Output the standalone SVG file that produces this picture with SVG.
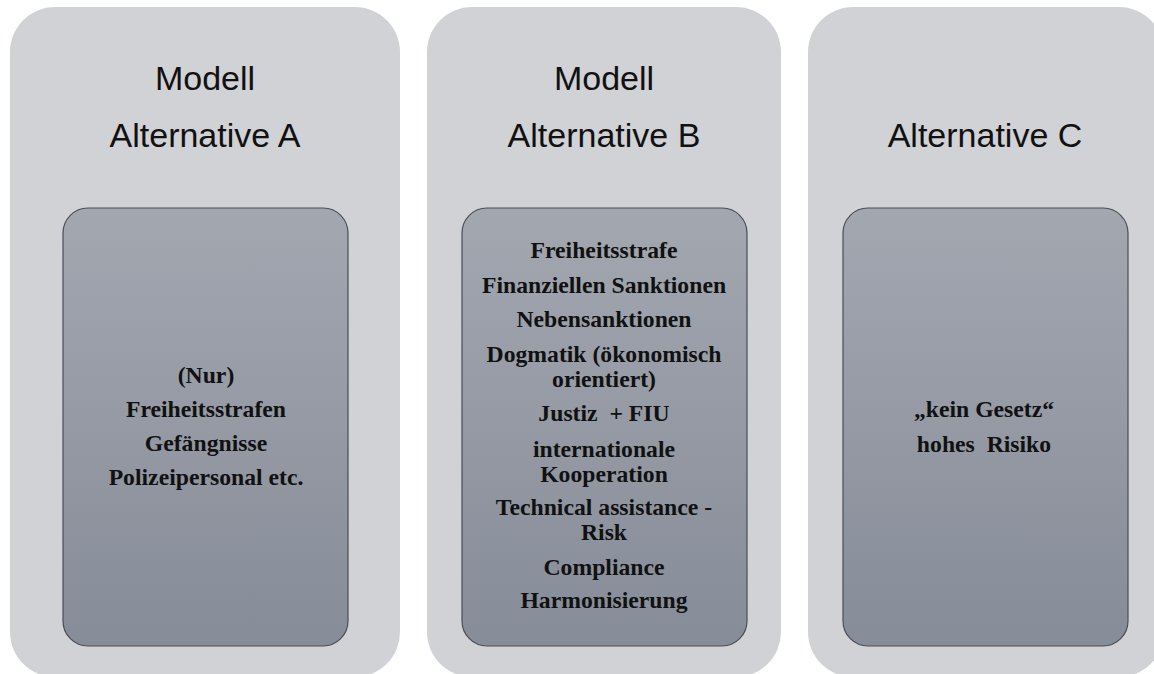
<svg xmlns="http://www.w3.org/2000/svg" width="1154" height="674" viewBox="0 0 1154 674">
<defs>
<linearGradient id="ig" x1="0" y1="0" x2="0" y2="1">
<stop offset="0" stop-color="#a3a7b0"/>
<stop offset="1" stop-color="#868c98"/>
</linearGradient>
<style>
.outer{fill:#d1d2d6;}
.inner{fill:url(#ig);stroke:#4a4d55;stroke-width:1.2;}
.title{font-family:"Liberation Sans",Arial,sans-serif;font-size:34px;fill:#111;text-anchor:middle;}
.body{font-family:"Liberation Serif","Times New Roman",serif;font-weight:bold;font-size:23.7px;fill:#111;text-anchor:middle;}
</style>
</defs>
<rect width="1154" height="674" fill="#ffffff"/>
<g id="nodeA">
<rect class="outer" x="10" y="7" width="390" height="670" rx="45"/>
<text class="title" x="205" y="90">Modell</text>
<text class="title" x="205" y="147">Alternative A</text>
<rect class="inner" x="63" y="208" width="285" height="438" rx="25"/>
<text class="body" x="206" y="383">(Nur)</text>
<text class="body" x="206" y="417">Freiheitsstrafen</text>
<text class="body" x="206" y="451">Gefängnisse</text>
<text class="body" x="206" y="485">Polizeipersonal etc.</text>
</g>
<g id="nodeB">
<rect class="outer" x="427" y="7" width="354" height="670" rx="45"/>
<text class="title" x="604" y="90">Modell</text>
<text class="title" x="604" y="147">Alternative B</text>
<rect class="inner" x="462" y="208" width="285" height="438" rx="25"/>
<text class="body" x="604" y="258">Freiheitsstrafe</text>
<text class="body" x="604" y="293">Finanziellen Sanktionen</text>
<text class="body" x="604" y="327">Nebensanktionen</text>
<text class="body" x="604" y="362">Dogmatik (ökonomisch</text>
<text class="body" x="604" y="387">orientiert)</text>
<text class="body" x="604" y="421" xml:space="preserve">Justiz  + FIU</text>
<text class="body" x="604" y="457">internationale</text>
<text class="body" x="604" y="482">Kooperation</text>
<text class="body" x="604" y="515">Technical assistance -</text>
<text class="body" x="604" y="540">Risk</text>
<text class="body" x="604" y="575">Compliance</text>
<text class="body" x="604" y="608">Harmonisierung</text>
</g>
<g id="nodeC">
<rect class="outer" x="808" y="7" width="356" height="670" rx="45"/>
<text class="title" x="985" y="147">Alternative C</text>
<rect class="inner" x="843" y="208" width="285" height="438" rx="25"/>
<text class="body" x="984" y="417">„kein Gesetz“</text>
<text class="body" x="984" y="452" xml:space="preserve">hohes  Risiko</text>
</g>
<g id="connectors"/>
</svg>
